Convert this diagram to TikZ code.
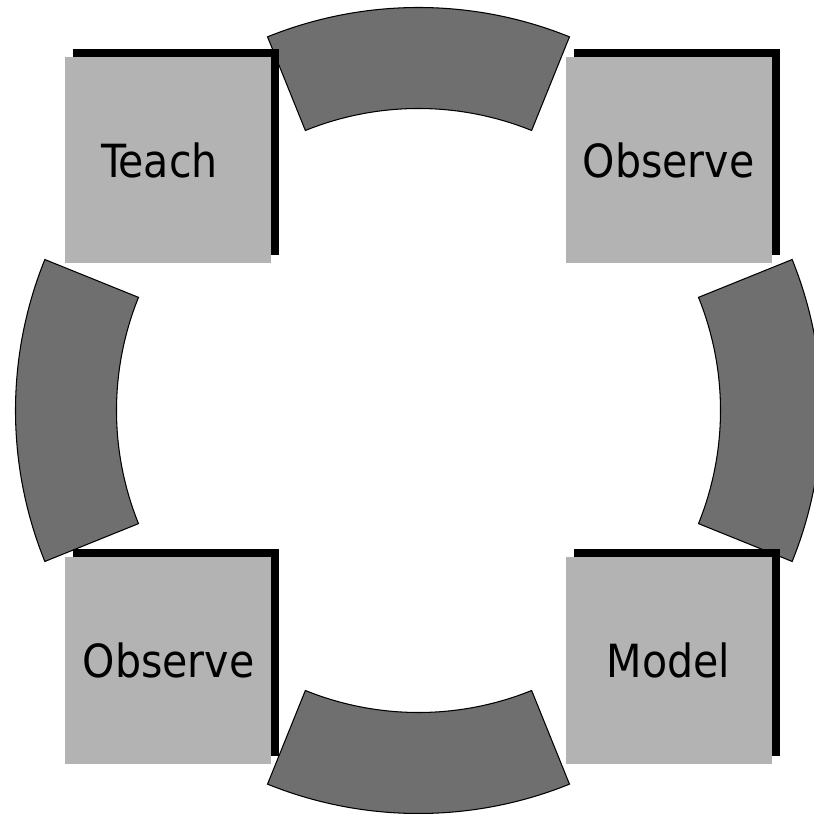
\documentclass[tikz,border=0pt]{standalone}
\usepackage{fontspec}
\setmainfont{DejaVu Sans Condensed}
\usetikzlibrary{shadows}
\usepackage{xcolor}
\definecolor{boxgray}{HTML}{B3B3B3}
\definecolor{arcgray}{HTML}{6F6F6F}
\tikzset{
  stagebox/.style={fill=boxgray, minimum size=4.12cm, inner sep=0pt, align=center,
    font=\fontsize{26}{30}\selectfont,
    drop shadow={shadow xshift=0.16cm, shadow yshift=0.16cm, fill=black, opacity=1}},
  arcseg/.style={draw=black, line width=0.6pt, fill=arcgray}
}
\begin{document}
\begin{tikzpicture}
  \clip (-8.37,-8.07) rectangle (7.91,8.21);

  % ring pieces between the boxes
  \draw[arcseg] (68:6.04) arc[start angle=68, end angle=112, radius=6.04] -- (112:8.06) arc[start angle=112, end angle=68, radius=8.06] -- cycle;
  \draw[arcseg] (158:6.04) arc[start angle=158, end angle=202, radius=6.04] -- (202:8.06) arc[start angle=202, end angle=158, radius=8.06] -- cycle;
  \draw[arcseg] (248:6.04) arc[start angle=248, end angle=292, radius=6.04] -- (292:8.06) arc[start angle=292, end angle=248, radius=8.06] -- cycle;
  \draw[arcseg] (-22:6.04) arc[start angle=-22, end angle=22, radius=6.04] -- (22:8.06) arc[start angle=22, end angle=-22, radius=8.06] -- cycle;

  \node[stagebox] (teach) at (-5,5) {Teach\hspace*{0.36cm}};
  \node[stagebox] (observetop) at (5,5) {Observe};
  \node[stagebox] (observebottom) at (-5,-5) {Observe};
  \node[stagebox] (model) at (5,-5) {Model};
\end{tikzpicture}
\end{document}
